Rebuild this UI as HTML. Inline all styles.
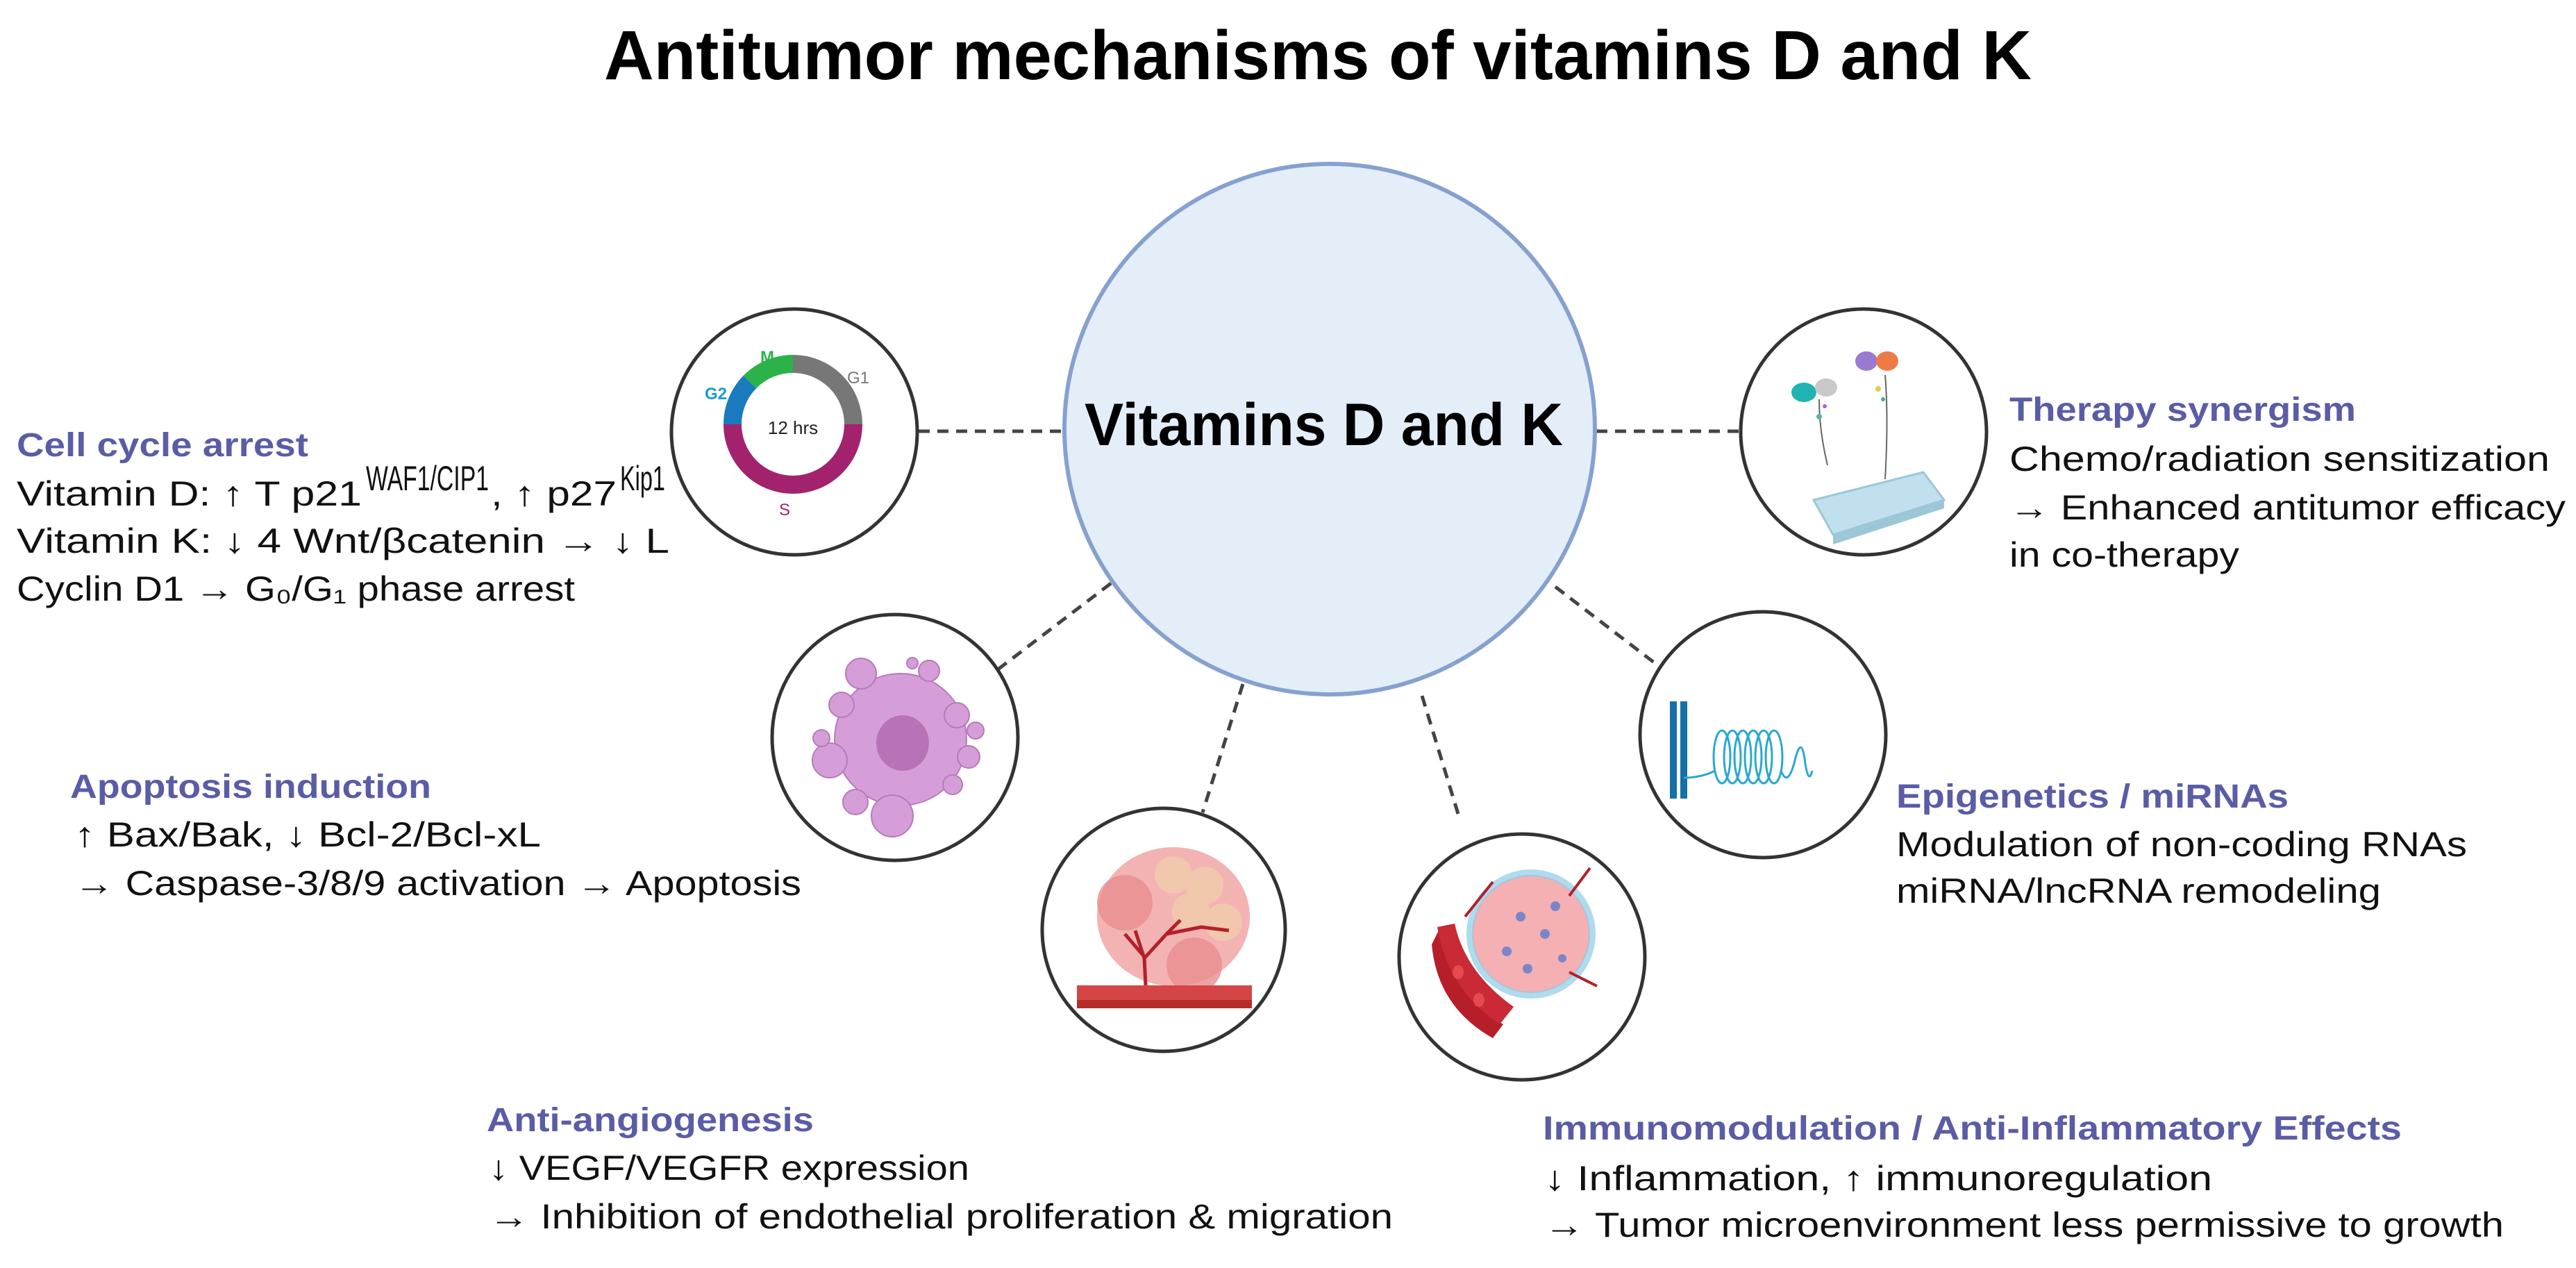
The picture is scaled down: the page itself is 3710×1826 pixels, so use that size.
<!DOCTYPE html>
<html><head><meta charset="utf-8"><style>
html,body{margin:0;padding:0;background:#fff;}
svg{display:block;}
text{font-family:"Liberation Sans",sans-serif;}
.h{font-weight:bold;fill:#5b5ca6;font-size:48px;}
.b{fill:#111;font-size:50px;}
</style></head><body>
<svg width="3710" height="1826" viewBox="0 0 3710 1826" xmlns="http://www.w3.org/2000/svg">
<rect width="3710" height="1826" fill="#fff"/>
<text x="870" y="114" font-size="100" font-weight="bold" fill="#000" textLength="2056" lengthAdjust="spacingAndGlyphs">Antitumor mechanisms of vitamins D and K</text>

<!-- connectors -->
<g stroke="#444" stroke-width="5" stroke-dasharray="16,11" fill="none">
<line x1="1323" y1="621" x2="1532" y2="621"/>
<line x1="2299" y1="621" x2="2506" y2="621"/>
<line x1="1600" y1="840" x2="1432" y2="968"/>
<line x1="1790" y1="985" x2="1732" y2="1170"/>
<line x1="2048" y1="1002" x2="2100" y2="1172"/>
<line x1="2240" y1="845" x2="2390" y2="960"/>
</g>

<!-- main circle -->
<circle cx="1915" cy="618" r="382" fill="#e4eef9" stroke="#86a1cf" stroke-width="6"/>
<text x="1562" y="641" font-size="86" font-weight="bold" fill="#000" textLength="689" lengthAdjust="spacingAndGlyphs">Vitamins D and K</text>

<!-- small circles -->
<g fill="#fff" stroke="#333" stroke-width="5">
<circle cx="1144" cy="622" r="177"/>
<circle cx="2684" cy="622" r="177"/>
<circle cx="1289" cy="1062" r="177"/>
<circle cx="1676" cy="1339" r="175"/>
<circle cx="2192" cy="1378" r="177"/>
<circle cx="2539" cy="1058" r="177"/>
</g>

<!-- cell cycle icon -->
<g fill="none" stroke-width="26">
<path d="M1142 524 A87 87 0 0 1 1229 611" stroke="#777"/>
<path d="M1229 611 A87 87 0 0 1 1055 611" stroke="#a3226e"/>
<path d="M1055 611 A87 87 0 0 1 1080 550" stroke="#1a7bbf"/>
<path d="M1080 550 A87 87 0 0 1 1142 524" stroke="#2bb34a"/>
</g>
<text x="1142" y="625" font-size="26" text-anchor="middle" fill="#222">12 hrs</text>
<text x="1095" y="522" font-size="24" fill="#2bb34a" font-weight="bold">M</text>
<text x="1220" y="552" font-size="24" fill="#777">G1</text>
<text x="1015" y="575" font-size="24" fill="#1a9bd8" font-weight="bold">G2</text>
<text x="1122" y="742" font-size="24" fill="#a3226e">S</text>

<!-- therapy icon -->
<g>
<path d="M2612 720 L2770 680 L2800 720 L2640 770 Z" fill="#bfe0ec" stroke="#9cc7d8" stroke-width="3"/>
<path d="M2640 770 L2800 720 L2800 732 L2640 784 Z" fill="#9cc7d8"/>
<ellipse cx="2598" cy="565" rx="18" ry="14" fill="#1fb3b3"/>
<ellipse cx="2630" cy="558" rx="16" ry="13" fill="#c8c8c8"/>
<ellipse cx="2688" cy="520" rx="16" ry="14" fill="#9a7ad0"/>
<ellipse cx="2718" cy="520" rx="16" ry="14" fill="#f07a45"/>
<path d="M2620 575 Q2620 620 2632 670" stroke="#666" stroke-width="2" fill="none"/>
<path d="M2715 540 Q2720 600 2715 690" stroke="#666" stroke-width="2" fill="none"/>
<circle cx="2620" cy="600" r="4" fill="#6aa"/><circle cx="2628" cy="585" r="3" fill="#a6c"/>
<circle cx="2705" cy="560" r="4" fill="#dc5"/><circle cx="2712" cy="575" r="3" fill="#4a9"/>
</g>

<!-- apoptosis icon -->
<g fill="#d69ed8" stroke="#b67ab8" stroke-width="2">
<circle cx="1297" cy="1065" r="95"/>
<circle cx="1240" cy="970" r="22"/><circle cx="1212" cy="1015" r="18"/>
<circle cx="1195" cy="1095" r="25"/><circle cx="1232" cy="1155" r="18"/>
<circle cx="1285" cy="1175" r="30"/><circle cx="1372" cy="1130" r="14"/>
<circle cx="1378" cy="1030" r="18"/><circle cx="1405" cy="1052" r="12"/>
<circle cx="1338" cy="966" r="15"/><circle cx="1314" cy="955" r="8"/>
<circle cx="1183" cy="1063" r="12"/><circle cx="1395" cy="1090" r="16"/>
</g>
<ellipse cx="1300" cy="1070" rx="38" ry="40" fill="#b872b8"/>

<!-- angiogenesis icon -->
<g>
<ellipse cx="1690" cy="1320" rx="110" ry="100" fill="#f0a0a0" opacity="0.8"/>
<circle cx="1620" cy="1300" r="40" fill="#e98d90" opacity="0.8"/>
<circle cx="1720" cy="1390" r="40" fill="#e98d90" opacity="0.8"/>
<circle cx="1690" cy="1260" r="27" fill="#f1c7ad"/><circle cx="1735" cy="1275" r="27" fill="#f1c7ad"/>
<circle cx="1715" cy="1313" r="27" fill="#f1c7ad"/><circle cx="1762" cy="1328" r="27" fill="#f1c7ad"/>
<path d="M1650 1419 L1648 1380 L1635 1340 M1648 1380 L1680 1345 L1700 1325 M1680 1345 L1730 1335 L1770 1340 M1650 1380 L1620 1345" stroke="#b3202a" stroke-width="5" fill="none"/>
<rect x="1551" y="1419" width="252" height="33" fill="#d64545"/>
<rect x="1551" y="1440" width="252" height="12" fill="#b52c2c"/>
</g>

<!-- immuno icon -->
<g>
<circle cx="2205" cy="1345" r="85" fill="#f4b0b3"/>
<circle cx="2205" cy="1345" r="88" fill="none" stroke="#8ccce6" stroke-width="10" opacity="0.7"/>
<g fill="#7b86c8"><circle cx="2190" cy="1320" r="7"/><circle cx="2225" cy="1345" r="7"/><circle cx="2170" cy="1370" r="7"/><circle cx="2240" cy="1305" r="7"/><circle cx="2200" cy="1395" r="7"/><circle cx="2250" cy="1380" r="6"/></g>
<path d="M2072 1340 Q2090 1430 2165 1475 L2150 1495 Q2070 1450 2062 1360 Z" fill="#b61f2a"/>
<path d="M2070 1335 Q2085 1425 2160 1475 L2180 1450 Q2110 1400 2095 1330 Z" fill="#c92a36"/>
<g fill="#e64a50"><ellipse cx="2100" cy="1400" rx="8" ry="10"/><ellipse cx="2130" cy="1440" rx="8" ry="10"/></g>
<path d="M2110 1320 L2150 1270 M2260 1290 L2290 1250 M2260 1400 L2300 1420" stroke="#b61f2a" stroke-width="4"/>
</g>

<!-- epigenetics icon -->
<g>
<path d="M2410 1010 L2410 1150 M2425 1010 L2425 1150" stroke="#1570a8" stroke-width="10"/>
<path d="M2425 1120 Q2450 1120 2470 1110" stroke="#2aa8d0" stroke-width="3" fill="none"/>
<g fill="none" stroke="#2aa8d0" stroke-width="3">
<ellipse cx="2480" cy="1090" rx="12" ry="38"/><ellipse cx="2495" cy="1090" rx="12" ry="38"/>
<ellipse cx="2510" cy="1090" rx="12" ry="38"/><ellipse cx="2525" cy="1090" rx="12" ry="38"/>
<ellipse cx="2540" cy="1090" rx="12" ry="38"/><ellipse cx="2555" cy="1090" rx="12" ry="38"/>
<path d="M2565 1110 Q2575 1135 2585 1095 Q2595 1055 2600 1100 Q2605 1130 2610 1110"/>
</g>
</g>

<!-- texts -->
<text class="h" x="24" y="657" textLength="420" lengthAdjust="spacingAndGlyphs">Cell cycle arrest</text>
<text class="b" x="24" y="728" textLength="497" lengthAdjust="spacingAndGlyphs">Vitamin D: ↑ T p21</text>
<text class="b" x="527" y="706" font-size="30" textLength="177" lengthAdjust="spacingAndGlyphs">WAF1/CIP1</text>
<text class="b" x="707" y="728" textLength="181" lengthAdjust="spacingAndGlyphs">, ↑ p27</text>
<text class="b" x="893" y="706" font-size="30" textLength="65" lengthAdjust="spacingAndGlyphs">Kip1</text>
<text class="b" x="24" y="796" textLength="940" lengthAdjust="spacingAndGlyphs">Vitamin  K: ↓ 4  Wnt/βcatenin → ↓ L</text>
<text class="b" x="24" y="865" textLength="804" lengthAdjust="spacingAndGlyphs">Cyclin D1 → G₀/G₁ phase arrest</text>

<text class="h" x="2894" y="606" textLength="499" lengthAdjust="spacingAndGlyphs">Therapy synergism</text>
<text class="b" x="2894" y="678" textLength="778" lengthAdjust="spacingAndGlyphs">Chemo/radiation sensitization</text>
<text class="b" x="2894" y="748" textLength="801" lengthAdjust="spacingAndGlyphs">→ Enhanced antitumor efficacy</text>
<text class="b" x="2894" y="816" textLength="331" lengthAdjust="spacingAndGlyphs">in co-therapy</text>

<text class="h" x="101" y="1149" textLength="520" lengthAdjust="spacingAndGlyphs">Apoptosis induction</text>
<text class="b" x="107" y="1219" textLength="672" lengthAdjust="spacingAndGlyphs">↑ Bax/Bak, ↓ Bcl-2/Bcl-xL</text>
<text class="b" x="107" y="1289" textLength="1047" lengthAdjust="spacingAndGlyphs">→ Caspase-3/8/9 activation → Apoptosis</text>

<text class="h" x="701" y="1629" textLength="471" lengthAdjust="spacingAndGlyphs">Anti-angiogenesis</text>
<text class="b" x="704" y="1699" textLength="692" lengthAdjust="spacingAndGlyphs">↓ VEGF/VEGFR expression</text>
<text class="b" x="704" y="1769" textLength="1302" lengthAdjust="spacingAndGlyphs">→ Inhibition of endothelial proliferation &amp; migration</text>

<text class="h" x="2731" y="1163" textLength="565" lengthAdjust="spacingAndGlyphs">Epigenetics / miRNAs</text>
<text class="b" x="2731" y="1233" textLength="822" lengthAdjust="spacingAndGlyphs">Modulation of non-coding RNAs</text>
<text class="b" x="2731" y="1300" textLength="698" lengthAdjust="spacingAndGlyphs">miRNA/lncRNA remodeling</text>

<text class="h" x="2222" y="1641" textLength="1237" lengthAdjust="spacingAndGlyphs">Immunomodulation / Anti-Inflammatory Effects</text>
<text class="b" x="2224" y="1714" textLength="962" lengthAdjust="spacingAndGlyphs">↓ Inflammation, ↑ immunoregulation</text>
<text class="b" x="2224" y="1781" textLength="1382" lengthAdjust="spacingAndGlyphs">→ Tumor microenvironment less permissive to growth</text>
</svg>
</body></html>
